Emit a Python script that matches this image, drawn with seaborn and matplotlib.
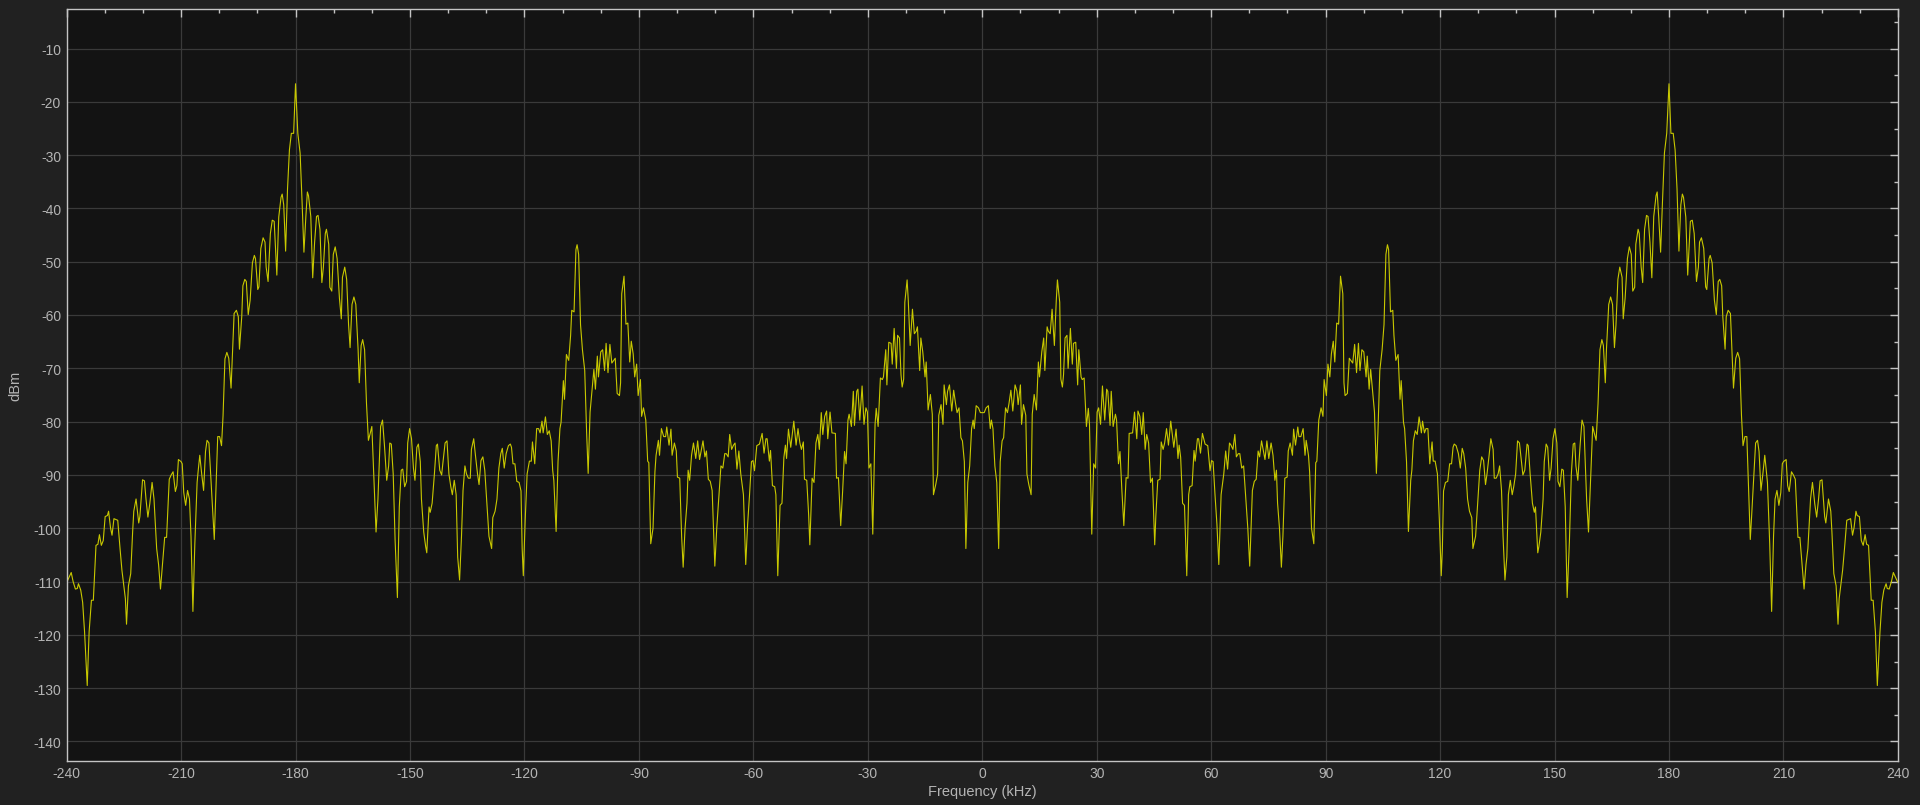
import pandas as pd
import matplotlib
matplotlib.use("Agg")
import matplotlib.pyplot as plt
from matplotlib.ticker import MultipleLocator
import seaborn as sns

# left half of the spectrum (kHz, dBm)
freq_left = [
    -240.0, -238.8, -238.3, -237.7, -237.2, -236.9, -236.3, -235.8, -235.3, -234.6,
    -234.1, -233.5, -233.0, -232.3, -231.8, -231.4, -230.9, -230.4, -229.9, -229.3,
    -229.0, -228.5, -228.1, -227.6, -226.6, -226.0, -225.5, -224.6, -224.3, -223.8,
    -223.2, -222.7, -222.4, -221.8, -221.1, -220.8, -220.1, -219.6, -219.2, -218.7,
    -218.2, -217.6, -217.1, -216.4, -215.9, -215.4, -214.8, -214.3, -213.8, -213.1,
    -212.6, -212.1, -211.5, -211.1, -210.7, -210.0, -209.7, -209.3, -208.8, -208.3,
    -207.8, -207.4, -206.9, -206.4, -205.8, -205.5, -205.1, -204.6, -204.1, -203.6,
    -203.2, -202.7, -202.2, -201.6, -201.3, -200.8, -200.4, -199.9, -199.4, -199.0,
    -198.5, -198.0, -197.5, -196.9, -196.4, -196.1, -195.5, -195.0, -194.7, -194.1,
    -193.8, -193.3, -192.9, -192.4, -191.9, -191.3, -190.8, -190.5, -189.9, -189.6,
    -189.1, -188.5, -188.0, -187.7, -187.2, -186.6, -186.1, -185.6, -184.9, -184.4,
    -183.8, -183.5, -183.1, -182.6, -182.1, -181.6, -181.1, -180.5, -180.0, -179.4,
    -178.8, -178.3, -177.8, -177.3, -176.9, -176.6, -176.0, -175.5, -175.0, -174.5,
    -174.1, -173.6, -173.1, -172.7, -172.2, -171.9, -171.3, -171.0, -170.5, -170.1,
    -169.6, -169.1, -168.5, -168.0, -167.7, -167.1, -166.6, -166.1, -165.7, -165.2,
    -164.7, -164.2, -163.6, -163.3, -162.8, -162.4, -161.9, -161.4, -160.9, -160.5,
    -160.0, -159.5, -158.9, -158.4, -157.7, -157.2, -156.7, -156.1, -155.6, -155.3,
    -154.9, -154.4, -153.9, -153.3, -152.8, -152.3, -151.9, -151.4, -150.9, -150.6,
    -150.1, -149.6, -149.1, -148.7, -148.2, -147.8, -147.3, -147.0, -146.4, -145.9,
    -145.6, -145.0, -144.7, -144.2, -143.6, -143.1, -142.8, -142.2, -141.7, -141.4,
    -140.8, -140.3, -139.8, -139.3, -138.9, -138.4, -137.9, -137.5, -137.0, -136.5,
    -136.1, -135.6, -135.2, -134.7, -134.2, -133.9, -133.3, -132.8, -132.3, -131.9,
    -131.4, -130.9, -130.4, -129.8, -129.3, -128.6, -128.3, -127.7, -127.2, -126.7,
    -126.2, -125.8, -125.3, -124.8, -124.2, -123.7, -123.4, -123.0, -122.5, -122.0,
    -121.4, -120.9, -120.6, -120.3, -119.8, -119.3, -118.7, -118.2, -117.9, -117.3,
    -116.8, -116.3, -115.9, -115.4, -115.1, -114.5, -114.0, -113.5, -113.0, -112.6,
    -112.3, -111.7, -111.2, -110.7, -110.4, -109.8, -109.5, -109.0, -108.4, -107.9,
    -107.6, -107.0, -106.5, -106.2, -105.8, -105.3, -104.8, -104.2, -103.7, -103.3,
    -102.8, -102.3, -101.8, -101.4, -100.9, -100.6, -100.0, -99.5, -99.0, -98.6,
    -98.1, -97.6, -97.1, -96.2, -95.7, -95.1, -94.8, -94.5, -93.9, -93.4,
    -92.9, -92.4, -92.0, -91.5, -91.1, -90.6, -90.2, -89.6, -89.3, -88.8,
    -88.2, -87.7, -87.4, -86.9, -86.3, -85.8, -85.5, -84.9, -84.6, -84.1,
    -83.5, -83.0, -82.7, -82.1, -81.6, -81.3, -80.7, -80.2, -79.9, -79.3,
    -78.8, -78.4, -77.9, -77.4, -77.1, -76.7, -76.2, -75.7, -75.1, -74.6,
    -74.1, -73.2, -72.7, -72.3, -71.8, -71.3, -70.8, -70.1, -69.6, -69.0,
    -68.5, -68.0, -67.5, -67.1, -66.6, -66.2, -65.7, -65.2, -64.8, -64.3,
    -63.8, -63.3, -62.6, -62.0, -61.5, -61.0, -60.5, -60.1, -59.7, -59.1,
    -58.4, -57.7, -57.2, -56.7, -56.4, -55.8, -55.5, -55.0, -54.4, -54.1,
    -53.6, -53.0, -52.5, -52.0, -51.6, -51.3, -50.8, -50.2, -49.7, -49.4,
    -48.8, -48.3, -47.8, -47.4, -46.9, -46.6, -46.0, -45.5, -45.2, -44.6,
    -44.1, -43.6, -43.1, -42.7, -42.2, -41.8, -41.3, -40.8, -40.5, -39.9,
    -39.4, -38.5, -38.2, -37.7, -37.1, -36.6, -36.1, -35.7, -35.2, -34.9,
    -34.3, -33.8, -33.5, -32.9, -32.6, -32.1, -31.5, -31.0, -30.5, -30.1,
    -29.7, -29.2, -28.7, -28.1, -27.8, -27.3, -26.7, -26.2, -25.9, -25.3,
    -25.0, -24.5, -23.9, -23.6, -23.1, -22.5, -22.2, -21.7, -21.3, -21.0,
    -20.6, -20.3, -19.7, -19.4, -18.9, -18.3, -17.8, -17.3, -17.0, -16.4,
    -16.1, -15.6, -15.0, -14.7, -14.2, -13.6, -13.1, -12.8, -12.2, -11.7,
    -11.4, -10.8, -10.3, -10.0, -9.4, -9.1, -8.6, -8.0, -7.5, -7.0,
    -6.6, -6.1, -5.6, -5.2, -4.7, -4.3, -3.8, -3.3, -2.8, -2.4,
    -2.1, -1.6, -1.0, -0.5,
]
level_left = [
    -110.2, -108.3, -110.0, -111.4, -111.3, -110.4, -111.6, -113.9, -119.4, -129.5,
    -119.4, -113.5, -113.5, -103.2, -103.0, -101.2, -103.2, -102.3, -97.8, -97.6,
    -96.8, -99.9, -101.3, -98.2, -98.5, -103.8, -107.9, -113.2, -118.0, -110.8,
    -108.5, -100.7, -96.8, -94.5, -99.0, -97.8, -90.9, -91.1, -94.5, -97.9,
    -95.4, -91.4, -94.5, -103.8, -106.8, -111.4, -106.2, -101.7, -101.7, -90.8,
    -90.0, -89.4, -93.1, -92.0, -87.1, -87.5, -87.9, -93.3, -95.7, -92.9,
    -94.5, -101.5, -115.6, -103.0, -91.4, -89.1, -86.3, -89.8, -92.9, -85.6,
    -83.5, -84.0, -90.6, -98.4, -102.1, -91.4, -82.8, -82.8, -84.5, -78.9,
    -68.2, -67.0, -68.1, -73.7, -65.0, -59.7, -59.1, -60.3, -66.4, -60.3,
    -54.5, -53.3, -53.7, -59.9, -57.2, -50.2, -48.8, -49.4, -55.2, -54.7,
    -47.5, -45.5, -46.3, -51.0, -53.7, -44.7, -42.2, -42.4, -52.5, -41.6,
    -37.9, -37.3, -39.3, -48.0, -36.3, -29.0, -25.9, -25.9, -16.6, -25.9,
    -29.6, -38.5, -48.2, -41.6, -36.9, -37.6, -41.5, -53.0, -46.3, -41.5,
    -41.3, -43.9, -53.9, -51.0, -44.7, -43.9, -46.7, -54.8, -55.5, -48.6,
    -47.2, -49.4, -56.8, -60.7, -52.9, -51.0, -53.3, -61.8, -66.1, -58.0,
    -56.6, -58.0, -66.5, -72.7, -65.7, -64.6, -66.5, -76.6, -83.5, -82.4,
    -80.9, -89.8, -100.7, -94.5, -80.9, -79.7, -84.4, -91.0, -88.3, -84.0,
    -84.2, -89.8, -102.3, -113.0, -96.0, -89.1, -88.9, -92.2, -91.2, -84.0,
    -81.3, -83.2, -88.7, -91.0, -84.8, -84.2, -87.5, -94.5, -100.7, -103.4,
    -104.6, -96.0, -97.0, -95.3, -89.8, -84.5, -84.2, -89.1, -90.0, -87.9,
    -84.0, -83.6, -89.8, -92.2, -93.7, -91.0, -93.7, -105.4, -109.7, -101.5,
    -92.9, -88.3, -89.8, -90.6, -90.6, -85.2, -83.2, -86.6, -89.8, -91.8,
    -87.3, -86.6, -89.1, -96.0, -101.5, -103.8, -98.0, -96.8, -94.5, -88.7,
    -86.0, -85.0, -88.7, -86.0, -84.5, -84.2, -84.8, -87.9, -87.9, -91.2,
    -91.4, -93.0, -103.8, -108.9, -98.4, -89.8, -87.4, -87.4, -83.8, -87.9,
    -81.3, -81.3, -82.1, -79.9, -82.1, -79.1, -82.4, -81.7, -83.6, -89.1,
    -91.0, -100.6, -87.5, -81.3, -80.1, -72.3, -75.8, -67.4, -68.5, -63.8,
    -59.1, -59.4, -47.7, -46.8, -48.6, -61.8, -66.5, -70.4, -82.1, -89.7,
    -78.2, -74.3, -70.2, -73.9, -67.7, -71.6, -66.9, -66.5, -70.4, -65.3,
    -70.8, -65.5, -69.0, -68.1, -74.7, -75.1, -72.7, -56.0, -52.7, -61.7,
    -61.5, -68.8, -64.9, -67.3, -71.6, -69.2, -75.1, -72.1, -79.0, -77.4,
    -79.7, -87.4, -87.7, -102.9, -100.0, -89.4, -86.3, -83.5, -86.3, -81.3,
    -82.8, -82.8, -81.0, -84.4, -81.4, -86.3, -84.0, -85.5, -90.4, -90.6,
    -101.5, -107.3, -100.0, -95.3, -89.1, -91.0, -86.3, -84.0, -86.9, -83.6,
    -87.1, -83.6, -86.6, -85.5, -90.8, -91.2, -92.9, -107.1, -100.0, -93.7,
    -88.3, -88.7, -86.0, -86.0, -86.6, -82.4, -85.2, -84.4, -84.0, -88.9,
    -85.5, -89.8, -93.7, -106.8, -99.2, -93.7, -87.5, -87.3, -89.2, -84.5,
    -84.2, -82.2, -85.9, -83.2, -83.2, -87.4, -85.4, -92.0, -92.2, -93.7,
    -108.9, -95.7, -95.3, -86.7, -84.4, -86.9, -81.4, -84.8, -81.7, -79.9,
    -84.4, -81.3, -84.0, -85.2, -83.8, -90.8, -91.0, -97.6, -103.1, -90.6,
    -91.4, -84.0, -82.4, -85.2, -78.3, -82.4, -79.0, -78.0, -83.2, -78.2,
    -82.1, -82.2, -90.6, -90.5, -99.5, -93.0, -85.6, -87.9, -79.7, -78.6,
    -80.9, -74.3, -80.7, -74.3, -73.9, -79.7, -73.3, -80.5, -77.4, -78.2,
    -88.7, -87.9, -101.1, -80.5, -77.5, -80.9, -71.8, -72.1, -71.6, -66.5,
    -73.1, -65.1, -65.3, -69.2, -62.5, -70.0, -63.8, -64.3, -71.2, -73.5,
    -72.0, -57.6, -53.4, -57.2, -65.7, -58.9, -63.5, -63.0, -62.2, -70.4,
    -64.3, -66.9, -71.6, -68.8, -77.8, -74.9, -78.6, -93.7, -91.8, -89.8,
    -78.8, -76.8, -80.5, -73.1, -76.8, -74.3, -73.1, -78.0, -74.1, -76.6,
    -78.3, -77.4, -83.0, -83.6, -87.5, -103.8, -91.4, -88.3, -81.3, -79.7,
    -81.3, -77.0, -77.4, -78.3,
]
center_freq = 0.0
center_level = -78.3

# the spectrum is symmetric about 0 kHz, so the right half mirrors the left
freq = freq_left + [center_freq] + [-f for f in reversed(freq_left)]
level = level_left + [center_level] + list(reversed(level_left))
spectrum = pd.DataFrame({"freq": freq, "dBm": level})

sns.set_style("dark")
plt.rcParams["font.family"] = ["Liberation Sans", "DejaVu Sans"]
plt.rcParams["axes.unicode_minus"] = False

fig = plt.figure(figsize=(19.2, 8.059), dpi=100, facecolor="#212121")
ax = fig.add_axes([0.0347, 0.055, 0.9538, 0.9332])
ax.set_facecolor("#131313")

sns.lineplot(data=spectrum, x="freq", y="dBm", ax=ax, color="#c8c800",
             linewidth=0.8, estimator=None, sort=False)

ax.set_xlim(-240, 240)
ax.set_ylim(-143.6, -2.5)
ax.xaxis.set_major_locator(MultipleLocator(30))
ax.xaxis.set_minor_locator(MultipleLocator(10))
ax.yaxis.set_major_locator(MultipleLocator(10))
ax.yaxis.set_minor_locator(MultipleLocator(5))

ax.grid(True, which="major", color="#3a3a3a", linewidth=0.9)
ax.grid(False, which="minor")
ax.tick_params(which="both", direction="in", top=True, right=True,
               colors="#c4c4c4", labelcolor="#b4b4b4", labelsize=10, pad=4)
ax.tick_params(which="major", length=6, width=1)
ax.tick_params(which="minor", length=3, width=1)
for side in ax.spines.values():
    side.set_visible(True)
    side.set_color("#c4c4c4")
    side.set_linewidth(1.0)

ax.set_xlabel("Frequency (kHz)", color="#b4b4b4", fontsize=10.5, labelpad=3)
ax.set_ylabel("dBm", color="#b4b4b4", fontsize=10.5, labelpad=8)

fig.savefig("out.png", dpi=100, facecolor=fig.get_facecolor())
